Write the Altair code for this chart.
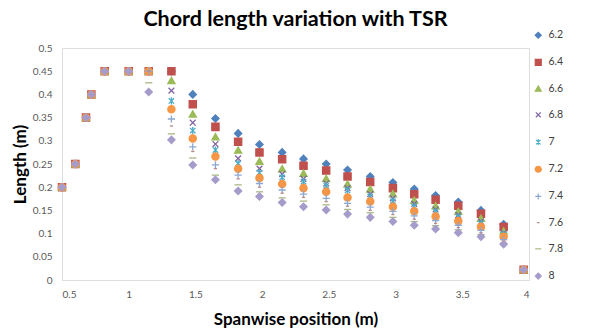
import altair as alt
import pandas as pd

# Spanwise positions (m)
span = [0.5, 0.6, 0.68, 0.72, 0.82, 1.0, 1.15, 1.32, 1.48, 1.65, 1.82, 1.98,
        2.15, 2.31, 2.48, 2.64, 2.81, 2.98, 3.14, 3.3, 3.47, 3.64, 3.81, 3.96]

tsr_labels = ["6.2", "6.4", "6.6", "6.8", "7", "7.2", "7.4", "7.6", "7.8", "8"]

c62 = [0.2, 0.25, 0.35, 0.4, 0.45, 0.45, 0.45, 0.45, 0.40, 0.348, 0.316, 0.292,
       0.275, 0.261, 0.250, 0.237, 0.223, 0.210, 0.196, 0.182, 0.168, 0.150, 0.120, 0.022]
c64 = [0.2, 0.25, 0.35, 0.4, 0.45, 0.45, 0.45, 0.45, 0.379, 0.330, 0.298, 0.275,
       0.260, 0.246, 0.236, 0.223, 0.211, 0.198, 0.185, 0.173, 0.160, 0.143, 0.114, 0.022]
c66 = [0.2, 0.25, 0.35, 0.4, 0.45, 0.45, 0.45, 0.43, 0.358, 0.309, 0.280, 0.256,
       0.240, 0.230, 0.219, 0.207, 0.196, 0.186, 0.172, 0.160, 0.148, 0.133, 0.106, 0.022]
c68 = [0.2, 0.25, 0.35, 0.4, 0.45, 0.45, 0.45, 0.408, 0.339, 0.293, 0.262, 0.240,
       0.228, 0.218, 0.208, 0.198, 0.185, 0.176, 0.164, 0.152, 0.140, 0.126, 0.101, 0.022]
c70 = [0.2, 0.25, 0.35, 0.4, 0.45, 0.45, 0.45, 0.386, 0.322, 0.280, 0.251, 0.231,
       0.221, 0.212, 0.203, 0.193, 0.180, 0.170, 0.158, 0.147, 0.136, 0.122, 0.098, 0.022]
c72 = [0.2, 0.25, 0.35, 0.4, 0.45, 0.45, 0.45, 0.368, 0.305, 0.266, 0.240, 0.220,
       0.207, 0.198, 0.190, 0.178, 0.169, 0.158, 0.148, 0.137, 0.127, 0.115, 0.093, 0.022]
c74 = [0.2, 0.25, 0.35, 0.4, 0.45, 0.45, 0.45, 0.347, 0.287, 0.248, 0.226, 0.208,
       0.194, 0.185, 0.176, 0.165, 0.157, 0.148, 0.138, 0.128, 0.118, 0.107, 0.087, 0.022]
c76 = [0.2, 0.25, 0.35, 0.4, 0.45, 0.45, 0.45, 0.332, 0.277, 0.240, 0.218, 0.200,
       0.187, 0.178, 0.169, 0.159, 0.150, 0.141, 0.131, 0.122, 0.113, 0.102, 0.083, 0.022]
c78 = [0.2, 0.25, 0.35, 0.4, 0.45, 0.45, 0.425, 0.315, 0.263, 0.226, 0.205, 0.190,
       0.177, 0.170, 0.162, 0.152, 0.145, 0.135, 0.126, 0.117, 0.108, 0.098, 0.080, 0.022]
c80 = [0.2, 0.25, 0.35, 0.4, 0.45, 0.45, 0.405, 0.302, 0.248, 0.216, 0.192, 0.180,
       0.167, 0.158, 0.151, 0.142, 0.135, 0.126, 0.118, 0.110, 0.102, 0.093, 0.077, 0.022]

series = [c62, c64, c66, c68, c70, c72, c74, c76, c78, c80]

colors = ["#4F81BD", "#C0504D", "#9BBB59", "#8064A2", "#4BACC6",
          "#F79646", "#8CA8D2", "#B88A88", "#A9B884", "#A69CCB"]
shapes = [
    "diamond",
    "square",
    "triangle-up",
    "M-0.8,-0.8L0.8,0.8M-0.8,0.8L0.8,-0.8",
    "M-0.75,-0.75L0.75,0.75M-0.75,0.75L0.75,-0.75M0,-1L0,1",
    "circle",
    "M-1,0L1,0M0,-1L0,1",
    "M-0.45,0L0.45,0",
    "M-1,0L1,0",
    "diamond",
]

rows = []
for lab, vals in zip(tsr_labels, series):
    for xv, yv in zip(span, vals):
        rows.append({"span": xv, "length": yv, "tsr": lab})
df = pd.DataFrame(rows)

color_scale = alt.Scale(domain=tsr_labels, range=colors)
shape_scale = alt.Scale(domain=tsr_labels, range=shapes)

legend = alt.Legend(
    title=None, orient="none", legendX=471, legendY=-18,
    labelFont="Lato", labelFontSize=10.5, labelColor="#404040",
    symbolSize=36, rowPadding=15.2, labelOffset=5, symbolStrokeWidth=1.2,
)

axis_style = dict(
    grid=False, ticks=False, domain=False,
    labelFont="Lato", labelFontSize=10, labelColor="#595959",
    titleFont="Lato", titleFontSize=17, titleFontWeight="bold", titleColor="#000000",
)

chart = alt.Chart(df).mark_point(filled=True, size=52, opacity=1, strokeWidth=1.3).encode(
    x=alt.X("span:Q", scale=alt.Scale(domain=[0.5, 4], nice=False),
            axis=alt.Axis(title="Spanwise position (m)", values=[0.5, 1, 1.5, 2, 2.5, 3, 3.5, 4],
                          format=".1~f", labelPadding=9, titlePadding=12, **axis_style)),
    y=alt.Y("length:Q", scale=alt.Scale(domain=[0, 0.5], nice=False),
            axis=alt.Axis(title="Length (m)", values=[0, 0.05, 0.1, 0.15, 0.2, 0.25, 0.3, 0.35, 0.4, 0.45, 0.5],
                          format=".2~f", labelPadding=10, titlePadding=3, **axis_style)),
    color=alt.Color("tsr:N", scale=color_scale, sort=tsr_labels, legend=legend),
    stroke=alt.Stroke("tsr:N", scale=color_scale, sort=tsr_labels, legend=legend),
    shape=alt.Shape("tsr:N", scale=shape_scale, sort=tsr_labels, legend=legend),
    order=alt.Order("order:Q"),
).transform_calculate(
    order="indexof(['6.2','6.4','6.6','6.8','7','7.2','7.4','7.6','7.8','8'], datum.tsr)"
).properties(
    width=467, height=232,
    autosize=alt.AutoSizeParams(type="none"),
    padding={"left": 62, "top": 48, "right": 64, "bottom": 56},
    title=alt.Title("Chord length variation with TSR", font="Lato", fontSize=21.5,
                    fontWeight="bold", color="#000000", anchor="middle", offset=14, dy=14),
).configure_view(
    stroke="#A6A6A6", strokeWidth=1
).configure(background="white")

chart.save("out.html", embed_options={"renderer": "svg", "actions": False})
